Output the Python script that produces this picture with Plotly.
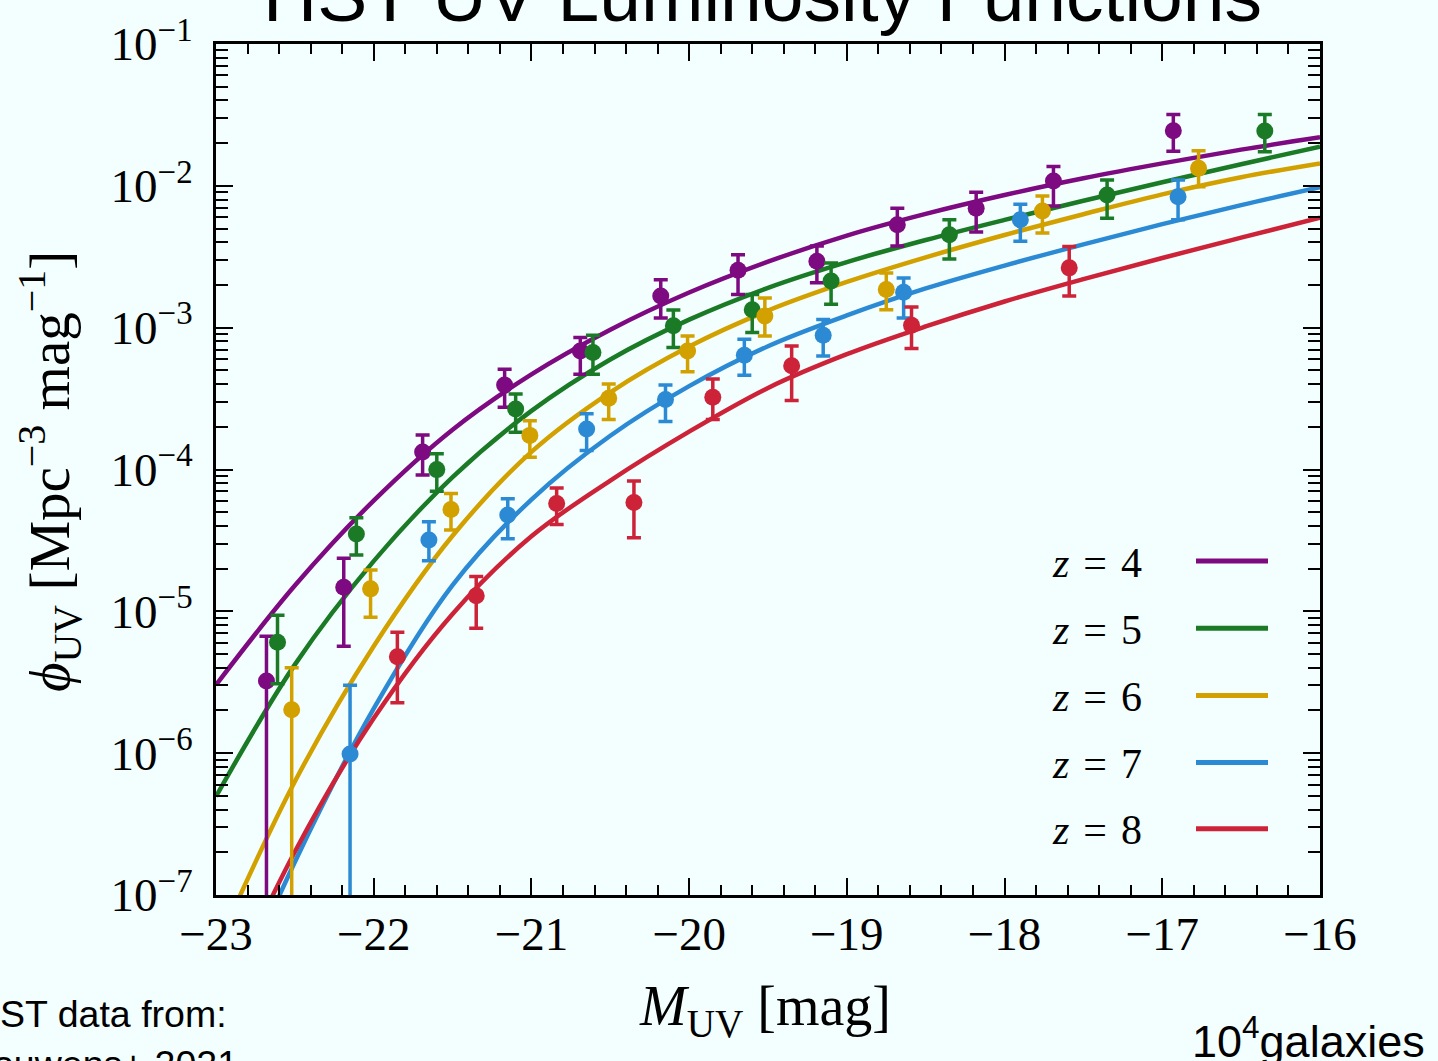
import plotly.graph_objects as go

# ---------------- best-fit luminosity functions ----------------
fit_m = [-23.0, -22.5, -22.0, -21.5, -21.0, -20.5, -20.0, -19.5, -19.0,
         -18.5, -18.0, -17.5, -17.0, -16.5, -16.0]
fit_phi_z4 = [3.03e-6, 1.52e-5, 6.04e-5, 1.91e-4, 4.69e-4, 9.68e-4, 1.77e-3, 2.92e-3, 4.46e-3,
              6.34e-3, 8.61e-3, 1.13e-2, 1.44e-2, 1.80e-2, 2.20e-2]
fit_phi_z5 = [4.95e-7, 4.21e-6, 2.26e-5, 8.83e-5, 2.59e-4, 5.97e-4, 1.14e-3, 1.91e-3, 2.90e-3,
              4.15e-3, 5.75e-3, 7.85e-3, 1.06e-2, 1.42e-2, 1.89e-2]
fit_phi_z6 = [4.18e-8, 6.31e-7, 5.68e-6, 3.41e-5, 1.33e-4, 3.50e-4, 7.36e-4, 1.32e-3, 2.10e-3,
              3.13e-3, 4.50e-3, 6.31e-3, 8.71e-3, 1.15e-2, 1.44e-2]
fit_phi_z7 = [9.14e-9, 1.71e-7, 2.06e-6, 1.53e-5, 6.14e-5, 1.73e-4, 3.87e-4, 7.40e-4, 1.22e-3,
              1.89e-3, 2.74e-3, 3.87e-3, 5.37e-3, 7.31e-3, 9.77e-3]
fit_phi_z8 = [1.37e-8, 2.02e-7, 1.76e-6, 9.59e-6, 3.38e-5, 8.36e-5, 1.85e-4, 3.76e-4, 6.50e-4,
              1.02e-3, 1.53e-3, 2.20e-3, 3.10e-3, 4.31e-3, 5.96e-3]

# ---------------- binned HST measurements ----------------
# magnitude, density, upper bound, lower bound (1e-9 = bar runs off the axis)
m_z4 = [-22.68, -22.19, -21.69, -21.17, -20.69, -20.18, -19.69, -19.19, -18.68, -18.18, -17.69, -16.93]
phi_z4 = [3.23e-6, 1.48e-5, 1.33e-4, 3.94e-4, 6.85e-4, 1.67e-3, 2.54e-3, 2.94e-3, 5.31e-3, 6.95e-3, 1.08e-2, 2.45e-2]
up_z4 = [6.68e-6, 2.37e-5, 1.75e-4, 5.09e-4, 8.51e-4, 2.18e-3, 3.27e-3, 3.76e-3, 6.95e-3, 9.00e-3, 1.37e-2, 3.18e-2]
lo_z4 = [1e-9, 5.68e-6, 9.14e-5, 2.75e-4, 4.70e-4, 1.17e-3, 1.71e-3, 2.07e-3, 3.76e-3, 4.72e-3, 7.21e-3, 1.75e-2]

m_z5 = [-22.61, -22.11, -21.60, -21.10, -20.61, -20.10, -19.60, -19.10, -18.35, -17.35, -16.35]
phi_z5 = [6.06e-6, 3.51e-5, 9.98e-5, 2.67e-4, 6.68e-4, 1.03e-3, 1.34e-3, 2.13e-3, 4.52e-3, 8.61e-3, 2.44e-2]
up_z5 = [9.37e-6, 4.57e-5, 1.29e-4, 3.40e-4, 8.83e-4, 1.33e-3, 1.71e-3, 2.86e-3, 5.76e-3, 1.10e-2, 3.18e-2]
lo_z5 = [3.08e-6, 2.50e-5, 7.03e-5, 1.83e-4, 4.70e-4, 7.24e-4, 9.23e-4, 1.46e-3, 3.05e-3, 5.92e-3, 1.74e-2]

m_z6 = [-22.52, -22.02, -21.51, -21.01, -20.51, -20.01, -19.52, -18.75, -17.76, -16.77]
phi_z6 = [2.02e-6, 1.44e-5, 5.22e-5, 1.74e-4, 3.18e-4, 6.85e-4, 1.21e-3, 1.86e-3, 6.65e-3, 1.33e-2]
up_z6 = [4.00e-6, 1.96e-5, 6.76e-5, 2.21e-4, 4.00e-4, 8.75e-4, 1.62e-3, 2.43e-3, 8.48e-3, 1.77e-2]
lo_z6 = [1e-9, 9.08e-6, 3.74e-5, 1.22e-4, 2.25e-4, 4.89e-4, 8.75e-4, 1.34e-3, 4.65e-3, 9.86e-3]

m_z7 = [-22.15, -21.65, -21.15, -20.65, -20.15, -19.65, -19.15, -18.64, -17.90, -16.90]
phi_z7 = [9.86e-7, 3.18e-5, 4.78e-5, 1.93e-4, 3.11e-4, 6.40e-4, 8.83e-4, 1.78e-3, 5.76e-3, 8.39e-3]
up_z7 = [3.01e-6, 4.29e-5, 6.21e-5, 2.47e-4, 3.94e-4, 8.28e-4, 1.14e-3, 2.24e-3, 7.41e-3, 1.10e-2]
lo_z7 = [1e-9, 2.27e-5, 3.25e-5, 1.36e-4, 2.18e-4, 4.62e-4, 6.32e-4, 1.17e-3, 4.06e-3, 5.76e-3]

m_z8 = [-21.85, -21.35, -20.84, -20.35, -19.85, -19.35, -18.59, -17.59]
phi_z8 = [4.78e-6, 1.29e-5, 5.75e-5, 5.85e-5, 3.23e-4, 5.38e-4, 1.04e-3, 2.64e-3]
up_z8 = [7.13e-6, 1.76e-5, 7.41e-5, 8.30e-5, 4.34e-4, 7.44e-4, 1.40e-3, 3.74e-3]
lo_z8 = [2.27e-6, 7.60e-6, 4.10e-5, 3.30e-5, 2.25e-4, 3.06e-4, 7.13e-4, 1.67e-3]

redshifts = [4, 5, 6, 7, 8]
line_colors = ["#7d0a80", "#1b7a25", "#d2a100", "#2b8ad3", "#cd2339"]

x_tick_vals = [-23, -22, -21, -20, -19, -18, -17, -16]
x_tick_text = ["\u221223", "\u221222", "\u221221", "\u221220",
               "\u221219", "\u221218", "\u221217", "\u221216"]
y_tick_vals = [1e-7, 1e-6, 1e-5, 1e-4, 1e-3, 1e-2, 1e-1]
y_tick_text = ["10<sup>\u22127</sup>", "10<sup>\u22126</sup>", "10<sup>\u22125</sup>",
               "10<sup>\u22124</sup>", "10<sup>\u22123</sup>", "10<sup>\u22122</sup>",
               "10<sup>\u22121</sup>"]

BG = "#f2fffe"
SERIF = "Liberation Serif, Times New Roman, serif"
SANS = "Liberation Sans, Arial, sans-serif"

W, H = 1438, 1061
L, R, T, B = 216, 118, 40, 166
PW, PH = W - L - R, H - T - B


def px(x):
    return (x - L) / PW


def py(y):
    return (H - B - y) / PH


fits = [fit_phi_z4, fit_phi_z5, fit_phi_z6, fit_phi_z7, fit_phi_z8]
points = [(m_z4, phi_z4, up_z4, lo_z4), (m_z5, phi_z5, up_z5, lo_z5),
          (m_z6, phi_z6, up_z6, lo_z6), (m_z7, phi_z7, up_z7, lo_z7),
          (m_z8, phi_z8, up_z8, lo_z8)]

fig = go.Figure()

for fp, col, z in zip(fits, line_colors, redshifts):
    fig.add_trace(go.Scatter(x=fit_m, y=fp, mode="lines",
                             line=dict(color=col, width=4.5, shape="spline"),
                             name=f"z = {z}", showlegend=False, hoverinfo="skip"))

for (m, p, up, lo), col in zip(points, line_colors):
    fig.add_trace(go.Scatter(
        x=m, y=p, mode="markers",
        marker=dict(color=col, size=17, line=dict(width=0)),
        error_y=dict(type="data", symmetric=False,
                     array=[u - v for u, v in zip(up, p)],
                     arrayminus=[v - d for v, d in zip(p, lo)],
                     color=col, thickness=3.5, width=7),
        showlegend=False))

axis_common = dict(showline=True, linewidth=3, linecolor="black", mirror="ticks",
                   ticks="inside", tickwidth=2, tickcolor="black", showgrid=False,
                   zeroline=False, tickfont=dict(family=SERIF, size=47, color="black"))

fig.update_xaxes(range=[-23, -16], tickvals=x_tick_vals, ticktext=x_tick_text, ticklen=17,
                 ticklabelstandoff=-4,
                 minor=dict(dtick=0.2, ticks="inside", ticklen=10, tickwidth=1.5, tickcolor="black",
                            showgrid=False),
                 **axis_common)
fig.update_yaxes(type="log", range=[-7, -1], tickvals=y_tick_vals, ticktext=y_tick_text, ticklen=17,
                 ticklabelstandoff=11,
                 minor=dict(dtick="D1", ticks="inside", ticklen=12, tickwidth=1.5, tickcolor="black",
                            showgrid=False),
                 **axis_common)

# legend: label on the left, colour key on the right
legend_rows = [559.5, 627, 694.5, 762, 828.5]
shapes = []
annotations = []
for yrow, col, z in zip(legend_rows, line_colors, redshifts):
    shapes.append(dict(type="line", xref="paper", yref="paper", x0=px(1196), x1=px(1268),
                       y0=py(yrow), y1=py(yrow), line=dict(color=col, width=5)))
    annotations.append(dict(xref="paper", yref="paper", x=px(1144), y=py(yrow + 1.5),
                            xanchor="right", yanchor="middle", showarrow=False,
                            text=f"<i>z</i>\u2004=\u2004{z}",
                            font=dict(family=SERIF, size=42, color="black")))

annotations += [
    dict(xref="paper", yref="paper", x=px(762), y=py(-9), xanchor="center", yanchor="middle",
         showarrow=False, text="HST UV Luminosity Functions",
         font=dict(family=SANS, size=75, color="black")),
    dict(xref="paper", yref="paper", x=px(765), y=py(1011), xanchor="center", yanchor="middle",
         showarrow=False, text="<i>M</i><sub>UV</sub> [mag]",
         font=dict(family=SERIF, size=56, color="black")),
    dict(xref="paper", yref="paper", x=px(50), y=py(470), xanchor="center", yanchor="middle",
         showarrow=False, textangle=-90,
         text="<i>\u03d5</i><sub>UV</sub> [Mpc<sup>\u22123</sup> mag<sup>\u22121</sup>]",
         font=dict(family=SERIF, size=57, color="black")),
    dict(xref="paper", yref="paper", x=px(229), y=py(1015), xanchor="right", yanchor="middle",
         showarrow=False, text="HST data from:", font=dict(family=SANS, size=37.5, color="black")),
    dict(xref="paper", yref="paper", x=px(240), y=py(1065), xanchor="right", yanchor="middle",
         showarrow=False, text="Bouwens+ 2021", font=dict(family=SANS, size=37.5, color="black")),
    dict(xref="paper", yref="paper", x=px(1427), y=py(1039), xanchor="right", yanchor="middle",
         showarrow=False, text="10<sup>4</sup>galaxies", font=dict(family=SANS, size=45, color="black")),
]

fig.update_layout(width=W, height=H, margin=dict(l=L, r=R, t=T, b=B),
                  paper_bgcolor=BG, plot_bgcolor=BG, showlegend=False,
                  shapes=shapes, annotations=annotations)

fig.write_html("out.html")
